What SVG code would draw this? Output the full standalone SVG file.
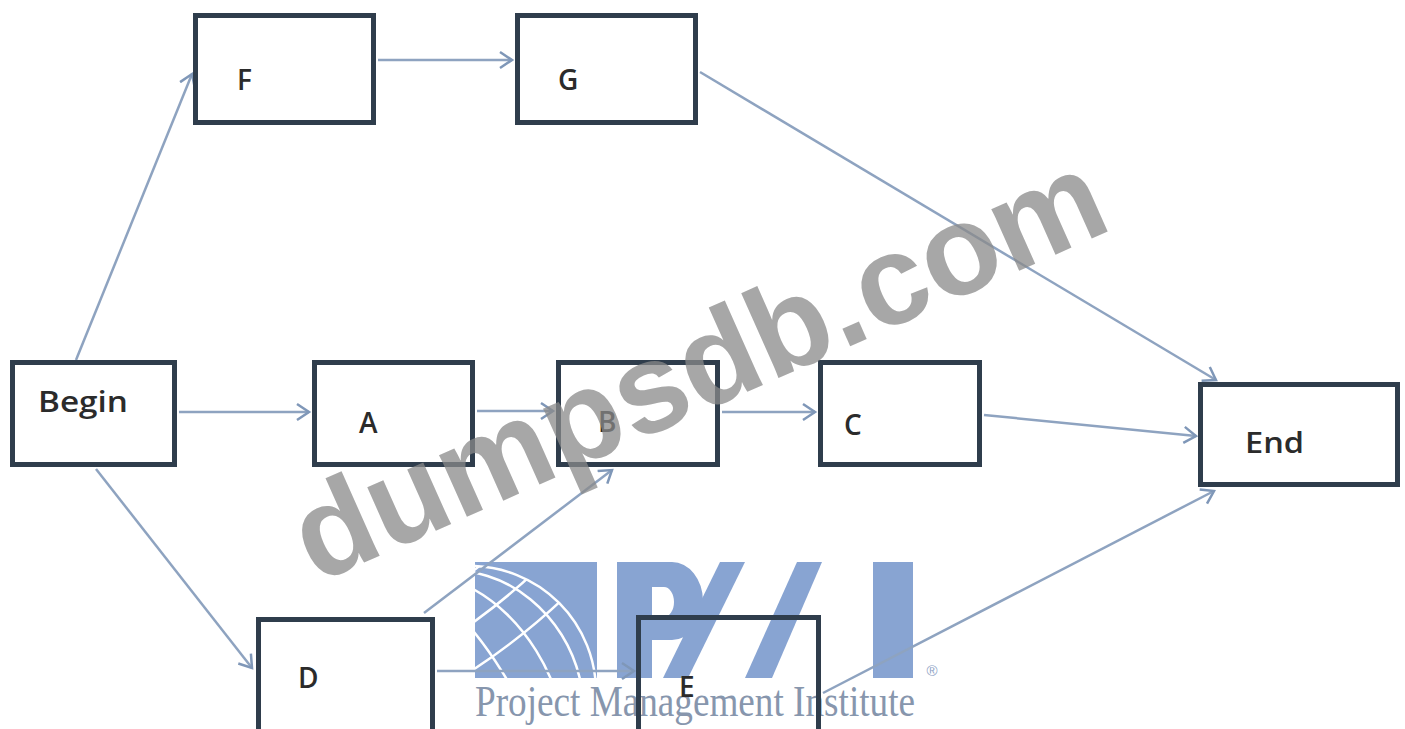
<svg xmlns="http://www.w3.org/2000/svg" width="1405" height="729" viewBox="0 0 1405 729">
<defs>
<style>
.box{fill:none;stroke:#2f3d4c;stroke-width:5}
.lbl{font-family:"Open Sans","Liberation Sans",sans-serif;font-size:28px;font-weight:600;fill:#2b2b2b}
.con{stroke:#8ea3c0;stroke-width:2.5;fill:none;marker-end:url(#arr)}
.logo{fill:#88a4d2}
.gl{fill:none;stroke:#ffffff;stroke-width:2.5}
</style>
<marker id="arr" markerUnits="userSpaceOnUse" markerWidth="16" markerHeight="20" refX="13" refY="9" orient="auto" viewBox="0 0 16 18">
<path d="M1,1 L13,9 L1,17" fill="none" stroke="#7f97b8" stroke-width="2.5"/>
</marker>
<clipPath id="sq"><rect x="475" y="562" width="122" height="116"/></clipPath>
<clipPath id="sph"><circle cx="470" cy="692" r="126"/></clipPath>
</defs>
<rect x="0" y="0" width="1405" height="729" fill="#ffffff"/>

<g id="pmi-logo">
<rect class="logo" x="475" y="562" width="122" height="116"/>
<g clip-path="url(#sq)">
<circle class="gl" cx="470" cy="692" r="126"/>
<g clip-path="url(#sph)">
<g transform="rotate(-32 470 692)">
<ellipse class="gl" cx="470" cy="692" rx="38" ry="126"/>
<ellipse class="gl" cx="470" cy="692" rx="78" ry="126"/>
<ellipse class="gl" cx="470" cy="692" rx="108" ry="126"/>
<path class="gl" d="M340,580 Q470,610 600,580"/>
<path class="gl" d="M340,622 Q470,650 600,622"/>
<path class="gl" d="M340,662 Q470,688 600,662"/>
</g>
</g>
</g>
<path class="logo" fill-rule="evenodd" d="M617,562 H672 A31,39 0 0 1 672,640 H652 V678 H617 Z M652,587 H664 A10,15 0 0 1 664,617 H652 Z"/>
<polygon class="logo" points="720,562 745,562 688,678 663,678"/>
<polygon class="logo" points="797,562 822,562 772,678 745,678"/>
<rect class="logo" x="873" y="562" width="40" height="116"/>
<text x="932" y="676" font-family="Liberation Sans,sans-serif" font-size="15" fill="#8fa3c6" text-anchor="middle">®</text>
<text x="475" y="716" font-family="Liberation Serif,serif" font-size="44" fill="#8796ad" textLength="440" lengthAdjust="spacingAndGlyphs">Project Management Institute</text>
</g>

<g id="connectors">
<path class="con" d="M76,360 L192,74"/>
<path class="con" d="M378,60 L512,60"/>
<path class="con" d="M700,72 L1216,380"/>
<path class="con" d="M179,412 L309,412"/>
<path class="con" d="M477,411 L553,411"/>
<path class="con" d="M722,412 L815,412"/>
<path class="con" d="M984,415 L1196,436"/>
<path class="con" d="M96,469 L252,668"/>
<path class="con" d="M424,613 L612,470"/>
<path class="con" d="M437,671 L634,671"/>
<path class="con" d="M823,693 L1214,491"/>
</g>

<g id="node-F"><rect class="box" x="195.5" y="15.5" width="178" height="107"/><text class="lbl" x="237" y="90">F</text></g>
<g id="node-G"><rect class="box" x="517.5" y="15.5" width="178" height="107"/><text class="lbl" x="558" y="90">G</text></g>
<g id="node-Begin"><rect class="box" x="12.5" y="362.5" width="162" height="102"/><text class="lbl" x="38" y="412" textLength="90" lengthAdjust="spacingAndGlyphs">Begin</text></g>
<g id="node-A"><rect class="box" x="314.5" y="362.5" width="158" height="102"/><text class="lbl" x="359" y="433">A</text></g>
<g id="node-B"><rect class="box" x="558.5" y="362.5" width="159" height="102"/><text class="lbl" x="598" y="432">B</text></g>
<g id="node-C"><rect class="box" x="820.5" y="362.5" width="159" height="102"/><text class="lbl" x="844" y="435">C</text></g>
<g id="node-End"><rect class="box" x="1200.5" y="384.5" width="197" height="100"/><text class="lbl" x="1245" y="453" textLength="59" lengthAdjust="spacingAndGlyphs">End</text></g>
<g id="node-D"><rect class="box" x="258.5" y="619.5" width="174" height="115"/><text class="lbl" x="298" y="688">D</text></g>
<g id="node-E"><rect class="box" x="638.5" y="617.5" width="180" height="117"/><text class="lbl" x="679" y="697">E</text></g>

<g id="watermark">
<text x="0" y="0" transform="translate(316,584) rotate(-24)" font-family="Liberation Sans,sans-serif" font-weight="bold" font-size="128" fill="#8a8a8a" fill-opacity="0.75">dumpsdb.com</text>
</g>
</svg>
